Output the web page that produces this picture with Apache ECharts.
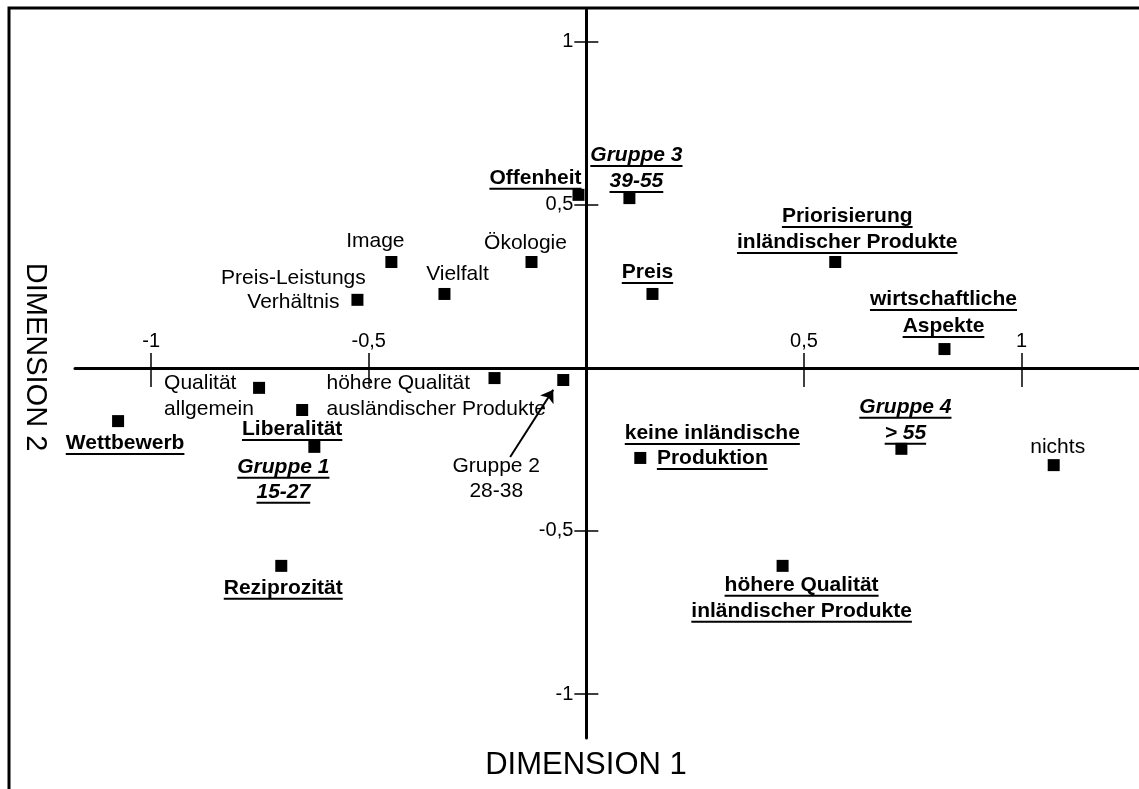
<!DOCTYPE html>
<html><head><meta charset="utf-8">
<script src="https://cdn.jsdelivr.net/npm/echarts@6/dist/echarts.min.js"></script>
<style>html,body{margin:0;padding:0;background:#fff}#c{width:1139px;height:789px}</style>
</head><body><div id="c"></div>
<script>
// ---- data ----
const names = ['Wettbewerb','Qualität allgemein','Liberalität','Gruppe 1','höhere Qualität ausländischer Produkte','Gruppe 2','Offenheit','Gruppe 3','Image','Preis-Leistungs Verhältnis','Vielfalt','Ökologie','Preis','Priorisierung inländischer Produkte','wirtschaftliche Aspekte','nichts','Gruppe 4','keine inländische Produktion','Reziprozität','höhere Qualität inländischer Produkte'];
const dim1 = [-1.076,-0.752,-0.653,-0.625,-0.211,-0.053,-0.018,0.099,-0.448,-0.526,-0.326,-0.126,0.152,0.572,0.823,1.074,0.724,0.124,-0.701,0.451];
const dim2 = [-0.163,-0.061,-0.129,-0.242,-0.031,-0.037,0.531,0.521,0.325,0.209,0.227,0.325,0.227,0.325,0.058,-0.298,-0.248,-0.276,-0.607,-0.607];
const labelTexts = [
  ['Wettbewerb'],['Qualität','allgemein'],['Liberalität'],['Gruppe 1','15-27'],
  ['höhere Qualität','ausländischer Produkte'],['Gruppe 2','28-38'],['Offenheit'],['Gruppe 3','39-55'],
  ['Image'],['Preis-Leistungs','Verhältnis'],['Vielfalt'],['Ökologie'],['Preis'],
  ['Priorisierung','inländischer Produkte'],['wirtschaftliche','Aspekte'],['nichts'],['Gruppe 4','> 55'],
  ['keine inländische','Produktion'],['Reziprozität'],['höhere Qualität','inländischer Produkte']
];
const tickValues = [-1,-0.5,0.5,1];
const arrowFrom = [-0.175,-0.273];
const arrowTo = [-0.076,-0.067];

// ---- label styling (pixel offsets from marker) ----
const labelKind = ['bold','plain','bold','group','plain','plain','bold','group','plain','plain','plain','plain','bold','bold','bold','plain','group','bold','bold','bold'];
const labelAlign = ['center','left','center','center','left','center','center','center','center','center','center','center','center','center','center','center','center','center','center','center'];
const labelOffset = [
  [7,[22]],[-95,[-5,21]],[-10,[19]],[-31,[20,45]],
  [-168,[5,31]],[-67,[86,111]],[-43,[-17]],[7,[-43,-17]],
  [-16,[-21]],[-64,[-22,2]],[13,[-20]],[-6,[-19]],[-5,[-22]],
  [12,[-46,-20]],[-1,[-50,-23]],[4,[-18]],[4,[-42,-16]],
  [72,[-25,0]],[2,[22]],[19,[19,45]]
];

const FONT = '"Liberation Sans", Arial, sans-serif';
const FS = 21;
function fontFor(kind){
  if(kind==='bold') return 'bold '+FS+'px '+FONT;
  if(kind==='group') return 'italic bold '+FS+'px '+FONT;
  return FS+'px '+FONT;
}
const mctx = document.createElement('canvas').getContext('2d');
function textW(t,f){ mctx.font=f; return mctx.measureText(t).width; }
const fmt = v => String(v).replace('.',',');

const XMIN=-1.175, XMAX=1.27, YMIN=-1.135, YMAX=1.098;
const G = {left:75, right:0, top:10, bottom:51};
const W = 1139 - G.left - G.right, H = 789 - G.top - G.bottom;
const xOff = -(W * (0 - XMIN) / (XMAX - XMIN));   // move y axis onto x=0
const yOff = -(H * (YMAX - 0) / (YMAX - YMIN));   // move x axis onto y=0

const chart = echarts.init(document.getElementById('c'), null, {renderer:'canvas'});
const axisLbl = {color:'#000', fontSize:20, fontFamily:FONT};
chart.setOption({
  animation:false,
  backgroundColor:'#fff',
  grid:{left:G.left, right:G.right, top:G.top, bottom:G.bottom, containLabel:false, outerBoundsMode:'none'},
  xAxis:[
    {type:'value', min:XMIN, max:XMAX, position:'top', offset:yOff,
     axisLine:{onZero:false, lineStyle:{color:'#000', width:3}},
     axisTick:{show:true, customValues:tickValues, length:15, lineStyle:{color:'#000', width:1.5}},
     axisLabel:Object.assign({customValues:tickValues, formatter:fmt, margin:16}, axisLbl),
     splitLine:{show:false}},
    {type:'value', min:XMIN, max:XMAX, position:'top', offset:yOff,
     axisLine:{onZero:false, lineStyle:{color:'rgba(0,0,0,0)', width:1}},
     axisTick:{show:true, inside:true, customValues:tickValues, length:19, lineStyle:{color:'#000', width:1.5}},
     axisLabel:{show:false}, splitLine:{show:false}}
  ],
  yAxis:[
    {type:'value', min:YMIN, max:YMAX, position:'left', offset:xOff,
     axisLine:{onZero:false, lineStyle:{color:'#000', width:3}},
     axisTick:{show:true, customValues:tickValues, length:12, lineStyle:{color:'#000', width:1.5}},
     axisLabel:Object.assign({customValues:tickValues, formatter:fmt, margin:13}, axisLbl),
     splitLine:{show:false}},
    {type:'value', min:YMIN, max:YMAX, position:'left', offset:xOff,
     axisLine:{onZero:false, lineStyle:{color:'rgba(0,0,0,0)', width:1}},
     axisTick:{show:true, inside:true, customValues:tickValues, length:12, lineStyle:{color:'#000', width:1.5}},
     axisLabel:{show:false}, splitLine:{show:false}}
  ],
  graphic:[
    {type:'rect', silent:true, shape:{x:9, y:8, width:1400, height:1000}, style:{fill:'none', stroke:'#000', lineWidth:3}},
    {type:'text', silent:true, x:586, y:765, style:{text:'DIMENSION 1', font:'31px '+FONT, fill:'#000', align:'center', verticalAlign:'middle'}},
    {type:'text', silent:true, x:35, y:357, rotation:-Math.PI/2, style:{text:'DIMENSION 2', font:'29px '+FONT, fill:'#000', align:'center', verticalAlign:'middle'}}
  ],
  series:[
    {type:'scatter', xAxisIndex:0, yAxisIndex:0, symbol:'rect', symbolSize:12, silent:true,
     itemStyle:{color:'#000', opacity:1}, data:dim1.map((x,i)=>[x, dim2[i], names[i]])},
    {type:'lines', coordinateSystem:'cartesian2d', xAxisIndex:0, yAxisIndex:0, silent:true,
     symbol:['none','arrow'], symbolSize:12,
     lineStyle:{color:'#000', width:2, opacity:1},
     data:[{coords:[arrowFrom, arrowTo]}]},
    {type:'custom', xAxisIndex:0, yAxisIndex:0, silent:true, clip:false,
     data:dim1.map((x,i)=>[x, dim2[i]]),
     renderItem:function(params, api){
       const i = params.dataIndex;
       const p = api.coord([api.value(0), api.value(1)]);
       const kind = labelKind[i], font = fontFor(kind), off = labelOffset[i], align = labelAlign[i];
       const children = [];
       labelTexts[i].forEach((t, j) => {
         const x = p[0] + off[0], y = p[1] + off[1][j];
         children.push({type:'text', x:x, y:y, style:{text:t, font:font, fill:'#000', align:align, verticalAlign:'middle'}});
         if(kind !== 'plain'){
           const w = textW(t, font);
           const left = align==='left' ? x : (align==='right' ? x-w : x-w/2);
           children.push({type:'line', shape:{x1:left, y1:y+11, x2:left+w, y2:y+11}, style:{stroke:'#000', lineWidth:2}});
         }
       });
       return {type:'group', children:children};
     }}
  ]
});
</script></body></html>
